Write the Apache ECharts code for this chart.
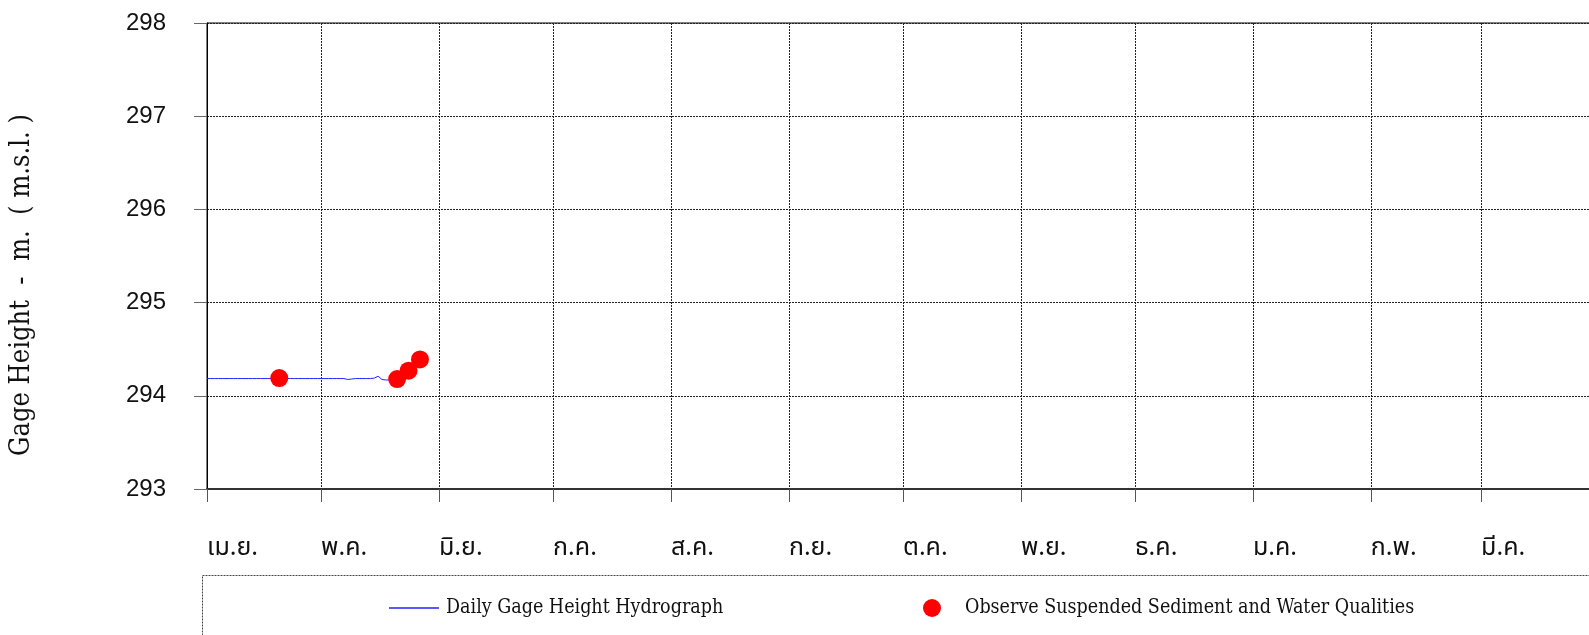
<!DOCTYPE html>
<html>
<head>
<meta charset="utf-8">
<script src="https://cdn.jsdelivr.net/npm/echarts@6/dist/echarts.min.js"></script>
<style>
html,body{margin:0;padding:0;background:#fff;overflow:hidden;width:1589px;height:635px;}
#chart{width:1589px;height:635px;}
</style>
</head>
<body>
<div id="chart"></div>
<script>
// ---- data ----
const monthLabels = ['ม.ค.','ก.พ.','มี.ค.','เม.ย.','พ.ค.','มิ.ย.','ก.ค.','ส.ค.','ก.ย.','ต.ค.','พ.ย.','ธ.ค.'];
const axisStart = '2023-04-01';
const axisEnd = '2024-04-01';
const yTicks = [293, 294, 295, 296, 297, 298];
const hydroStart = '2023-04-01';
const hydroValues = [
  294.185,294.185,294.185,294.185,294.185,294.185,294.185,294.185,294.185,294.185,
  294.185,294.185,294.185,294.185,294.185,294.185,294.185,294.185,294.185,294.185,
  294.185,294.185,294.185,294.185,294.185,294.185,294.185,294.185,294.185,294.185,
  294.185,294.185,294.185,294.185,294.185,294.185,294.185,294.175,294.18,294.185,
  294.185,294.185,294.185,294.185,294.19,294.21,294.175,294.17,294.17,294.17,294.17
];
const sampleDates = ['2023-04-20','2023-05-21','2023-05-24','2023-05-27'];
const sampleValues = [294.19, 294.18, 294.27, 294.39];
const seriesNames = ['Daily Gage Height Hydrograph','Observe Suspended Sediment and Water Qualities'];
const yTitle = 'Gage Height  -  m.  ( m.s.l. )';

// build table for the library
const DAY = 86400000;
const t0 = new Date(hydroStart + 'T00:00:00').getTime();
const hydroData = hydroValues.map((v, i) => [t0 + i * DAY, v]);
const sampleData = sampleDates.map((d, i) => [new Date(d + 'T00:00:00').getTime(), sampleValues[i]]);

const chart = echarts.init(document.getElementById('chart'), null, {renderer: 'canvas', width: 1589, height: 635});
const thaiFont = '"Noto Sans Thai","Loma","Garuda","Tlwg Typo","Norasi","Noto Sans","DejaVu Sans",sans-serif';
const slabFont = '"DejaVu Serif Condensed","DejaVu Serif",serif';
chart.setOption({
  animation: false,
  backgroundColor: '#fff',
  grid: {left: 207, top: 23, width: 1392, height: 466, outerBoundsMode: 'none', containLabel: false,
         show: true, borderColor: '#000', borderWidth: 1, backgroundColor: 'transparent'},
  xAxis: {
    type: 'time',
    min: new Date(axisStart + 'T00:00:00').getTime(),
    max: new Date(axisEnd + 'T00:00:00').getTime(),
    splitNumber: 12,
    axisLine: {show: true, lineStyle: {color: '#333', width: 2}},
    axisTick: {show: true, length: 13, lineStyle: {color: '#555', width: 1}},
    splitLine: {show: true, lineStyle: {color: '#222', type: [2, 1], width: 1}},
    minorTick: {show: false},
    axisLabel: {
      margin: 48, align: 'left', fontSize: 25, color: '#111', fontFamily: thaiFont,
      showMaxLabel: false,
      formatter: function (val) { return monthLabels[new Date(val).getMonth()]; }
    }
  },
  yAxis: {
    type: 'value', min: yTicks[0], max: yTicks[yTicks.length - 1], interval: 1,
    axisLine: {show: true, lineStyle: {color: '#000', width: 1}},
    axisTick: {show: true, length: 13, lineStyle: {color: '#666'}},
    splitLine: {show: true, lineStyle: {color: '#222', type: [2, 1], width: 1}},
    axisLabel: {margin: 41, fontSize: 24, color: '#111', fontFamily: '"Liberation Sans", Arial, sans-serif'}
  },
  legend: [
    {left: 389, top: 598, padding: 0, itemWidth: 50, itemHeight: 1.5, itemGap: 0,
     data: [{name: seriesNames[0], icon: 'rect'}],
     textStyle: {fontSize: 19.5, color: '#111', fontFamily: slabFont, padding: [0,0,0,2]}},
    {left: 923, top: 598, padding: 0, itemWidth: 18, itemHeight: 18, itemGap: 0,
     data: [{name: seriesNames[1], icon: 'circle'}],
     textStyle: {fontSize: 19.5, color: '#111', fontFamily: slabFont, padding: [0,0,0,19]}}
  ],
  graphic: [
    {type: 'text', x: 22, y: 285, rotation: Math.PI / 2,
     style: {text: yTitle, fontSize: 27, fill: '#111', fontFamily: slabFont, align: 'center', verticalAlign: 'middle'}},
    {type: 'rect', shape: {x: 202.5, y: 575.5, width: 1500, height: 120},
     style: {fill: 'none', stroke: '#444', lineWidth: 1, lineDash: [2, 1]}}
  ],
  series: [
    {name: seriesNames[0], type: 'line', data: hydroData, showSymbol: false, symbol: 'none',
     lineStyle: {color: '#2222ff', width: 1}, itemStyle: {color: '#2222ff'}, z: 2},
    {name: seriesNames[1], type: 'scatter', data: sampleData, symbolSize: 18,
     itemStyle: {color: '#ff0000', opacity: 1}, z: 3}
  ]
});
</script>
</body>
</html>
